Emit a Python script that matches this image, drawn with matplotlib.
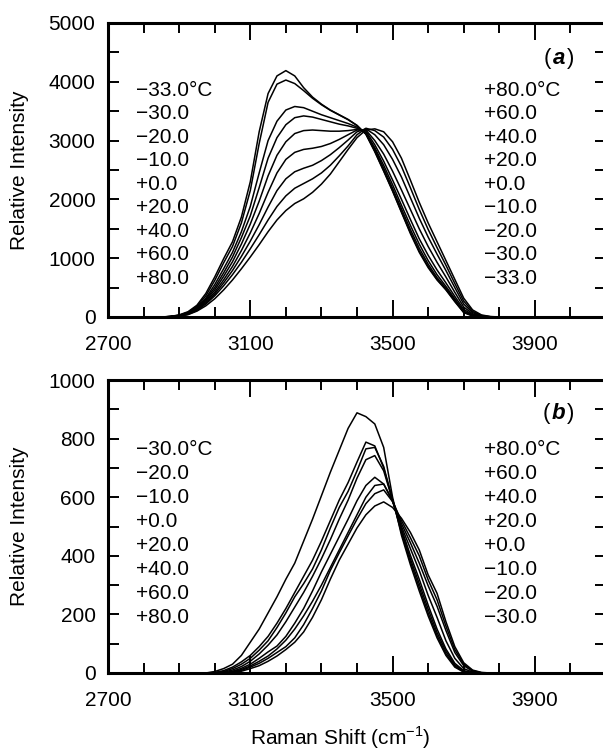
import numpy as np
import matplotlib.pyplot as plt
from matplotlib.ticker import MultipleLocator, FixedLocator
from matplotlib.offsetbox import TextArea, HPacker, AnnotationBbox

plt.rcParams['font.family'] = ['Liberation Sans', 'DejaVu Sans']
plt.rcParams['font.size'] = 15

# ---- panel (a) spectra, Raman shift grid 2850..3800 cm-1
shift_a = np.arange(2850, 3801, 25)
a_m33 = [0, 10, 35, 90, 200, 400, 680, 990, 1280, 1700, 2300, 3150, 3800, 4100, 4190, 4100, 3900, 3740, 3620, 3520,
         3440, 3360, 3260, 3110, 2810, 2480, 2140, 1780, 1420, 1100, 840, 630, 460, 260, 75, 18, 2, 0, 0]
a_m30 = [0, 8, 30, 80, 180, 360, 620, 920, 1200, 1600, 2150, 2950, 3650, 3960, 4030, 3970, 3850, 3720, 3610, 3515,
         3435, 3355, 3255, 3110, 2820, 2490, 2150, 1790, 1440, 1120, 860, 640, 470, 270, 80, 20, 2, 0, 0]
a_m20 = [0, 8, 28, 70, 160, 320, 550, 820, 1100, 1450, 1880, 2450, 3000, 3330, 3520, 3580, 3560, 3500, 3440, 3390,
         3340, 3290, 3230, 3120, 2850, 2530, 2190, 1840, 1490, 1170, 900, 670, 490, 290, 90, 25, 3, 0, 0]
a_m10 = [0, 7, 25, 65, 150, 300, 500, 750, 1020, 1350, 1720, 2200, 2700, 3050, 3270, 3390, 3420, 3400, 3360, 3320,
         3280, 3250, 3210, 3130, 2880, 2580, 2250, 1900, 1560, 1240, 960, 720, 520, 310, 100, 30, 5, 0, 0]
a_0 = [0, 6, 22, 60, 140, 280, 460, 690, 940, 1240, 1580, 1970, 2400, 2750, 2980, 3120, 3170, 3180, 3170, 3160,
       3160, 3170, 3190, 3160, 2930, 2650, 2330, 2000, 1660, 1330, 1050, 800, 580, 350, 130, 40, 8, 0, 0]
a_p20 = [0, 6, 20, 55, 130, 260, 420, 630, 860, 1130, 1430, 1760, 2120, 2450, 2680, 2800, 2850, 2870, 2900, 2950,
         3020, 3100, 3180, 3180, 3000, 2770, 2480, 2160, 1830, 1500, 1200, 930, 680, 420, 170, 55, 12, 0, 0]
a_p40 = [0, 5, 18, 50, 120, 240, 390, 580, 790, 1030, 1290, 1570, 1870, 2150, 2350, 2470, 2530, 2580, 2660, 2760,
         2880, 3010, 3150, 3200, 3100, 2930, 2680, 2380, 2030, 1680, 1360, 1070, 790, 500, 220, 75, 18, 3, 0]
a_p60 = [0, 5, 16, 45, 110, 220, 360, 530, 720, 930, 1160, 1400, 1650, 1880, 2060, 2190, 2270, 2350, 2450, 2580,
         2740, 2910, 3100, 3210, 3170, 3060, 2850, 2560, 2200, 1830, 1490, 1180, 880, 570, 270, 95, 25, 5, 0]
a_p80 = [0, 4, 14, 40, 100, 190, 310, 460, 630, 820, 1020, 1230, 1450, 1650, 1810, 1930, 2010, 2120, 2260, 2430,
         2640, 2850, 3050, 3180, 3200, 3150, 2980, 2700, 2330, 1950, 1600, 1280, 960, 640, 320, 120, 35, 8, 0]

# ---- panel (b) spectra, Raman shift grid 2950..3800 cm-1
shift_b = np.arange(2950, 3801, 25)
b_m30 = [0, 0, 5, 15, 30, 60, 105, 150, 205, 260, 320, 375, 450, 525, 605, 685, 760, 835, 888, 875,
         850, 770, 600, 470, 370, 280, 195, 120, 60, 20, 3, 0, 0, 0, 0]
b_m20 = [0, 0, 2, 8, 20, 38, 60, 90, 125, 170, 220, 275, 330, 385, 450, 520, 590, 650, 720, 788,
         775, 700, 590, 478, 380, 292, 205, 128, 66, 24, 4, 0, 0, 0, 0]
b_m10 = [0, 0, 0, 5, 15, 30, 50, 78, 110, 155, 205, 260, 305, 355, 420, 495, 565, 620, 690, 765,
         770, 705, 590, 485, 390, 305, 218, 138, 74, 28, 6, 0, 0, 0, 0]
b_0 = [0, 0, 0, 3, 10, 22, 40, 65, 95, 130, 175, 225, 275, 330, 390, 455, 525, 590, 665, 728,
       742, 690, 590, 492, 402, 320, 232, 150, 82, 33, 8, 1, 0, 0, 0]
b_p20 = [0, 0, 0, 0, 6, 16, 30, 50, 72, 92, 125, 170, 220, 280, 345, 405, 465, 525, 588, 640,
         668, 645, 585, 500, 425, 350, 265, 190, 110, 50, 15, 3, 0, 0, 0]
b_p40 = [0, 0, 0, 0, 4, 12, 24, 40, 58, 82, 112, 150, 195, 245, 300, 360, 420, 480, 540, 600,
         640, 645, 590, 510, 445, 375, 298, 228, 145, 70, 25, 6, 0, 0, 0]
b_p60 = [0, 0, 0, 0, 2, 9, 20, 33, 50, 70, 90, 120, 165, 220, 280, 350, 410, 468, 525, 578,
         612, 625, 585, 520, 462, 400, 318, 250, 160, 80, 30, 8, 1, 0, 0]
b_p80 = [0, 0, 0, 0, 0, 6, 15, 25, 40, 58, 80, 105, 140, 190, 250, 320, 385, 440, 495, 540,
         570, 584, 565, 528, 480, 420, 335, 272, 175, 90, 35, 10, 2, 0, 0]

x_ticks = [2700, 3100, 3500, 3900]
labels_a_left = ['\u221233.0\u00b0C', '\u221230.0', '\u221220.0', '\u221210.0', '+0.0', '+20.0', '+40.0', '+60.0', '+80.0']
labels_a_right = ['+80.0\u00b0C', '+60.0', '+40.0', '+20.0', '+0.0', '\u221210.0', '\u221220.0', '\u221230.0', '\u221233.0']
labels_b_left = ['\u221230.0\u00b0C', '\u221220.0', '\u221210.0', '+0.0', '+20.0', '+40.0', '+60.0', '+80.0']
labels_b_right = ['+80.0\u00b0C', '+60.0', '+40.0', '+20.0', '+0.0', '\u221210.0', '\u221220.0', '\u221230.0']

W, H = 603, 754
fig = plt.figure(figsize=(W / 100, H / 100), dpi=100)
ax_a = fig.add_axes([108 / W, 1 - 317 / H, 498 / W, 294 / H])
ax_b = fig.add_axes([108 / W, 1 - 673 / H, 498 / W, 293 / H])


def style_axis(ax, ymax, ymajor, yminor):
    ax.set_xlim(2700, 4100)
    ax.set_ylim(0, ymax)
    ax.xaxis.set_major_locator(FixedLocator(x_ticks))
    ax.xaxis.set_minor_locator(MultipleLocator(100))
    ax.yaxis.set_major_locator(MultipleLocator(ymajor))
    ax.yaxis.set_minor_locator(MultipleLocator(yminor))
    ax.tick_params(which='both', direction='in', top=True, right=True, width=1.4, colors='black')
    ax.tick_params(axis='x', which='major', length=12, pad=13)
    ax.tick_params(axis='x', which='minor', length=7)
    ax.tick_params(axis='y', which='both', length=8, pad=9)
    for s in ax.spines.values():
        s.set_linewidth(2.2)
    ax.set_ylabel('Relative Intensity', fontsize=15)
    ax.yaxis.set_label_coords(-0.159, 0.5)


def panel_tag(ax, letter, x, y):
    box = HPacker(children=[TextArea('(', textprops=dict(fontsize=16)),
                            TextArea(letter, textprops=dict(fontsize=16, weight='bold', style='italic')),
                            TextArea(')', textprops=dict(fontsize=16))],
                  align='baseline', pad=0, sep=1)
    ab = AnnotationBbox(box, (x, y), xycoords='data', frameon=False, box_alignment=(1, 0.5))
    ax.add_artist(ab)


for ys in [a_m33, a_m30, a_m20, a_m10, a_0, a_p20, a_p40, a_p60, a_p80]:
    ax_a.plot(shift_a, ys, color='black', lw=1.1)
for ys in [b_m30, b_m20, b_m10, b_0, b_p20, b_p40, b_p60, b_p80]:
    ax_b.plot(shift_b, ys, color='black', lw=1.1)

style_axis(ax_a, 5000, 1000, 500)
style_axis(ax_b, 1000, 200, 100)

for i, (l, r) in enumerate(zip(labels_a_left, labels_a_right)):
    y = 3860 - i * 400
    ax_a.text(2780, y, l, ha='left', va='center', fontsize=15)
    ax_a.text(3758, y, r, ha='left', va='center', fontsize=15)
for i, (l, r) in enumerate(zip(labels_b_left, labels_b_right)):
    y = 764 - i * 82
    ax_b.text(2780, y, l, ha='left', va='center', fontsize=15)
    ax_b.text(3758, y, r, ha='left', va='center', fontsize=15)

panel_tag(ax_a, 'a', 4010, 4390)
panel_tag(ax_b, 'b', 4010, 887)

fig.text(340 / W, 1 - 738 / H, 'Raman Shift (cm$^{\\mathregular{\u22121}}$)', ha='center', va='center', fontsize=15)

fig.savefig('out.png', dpi=100)
